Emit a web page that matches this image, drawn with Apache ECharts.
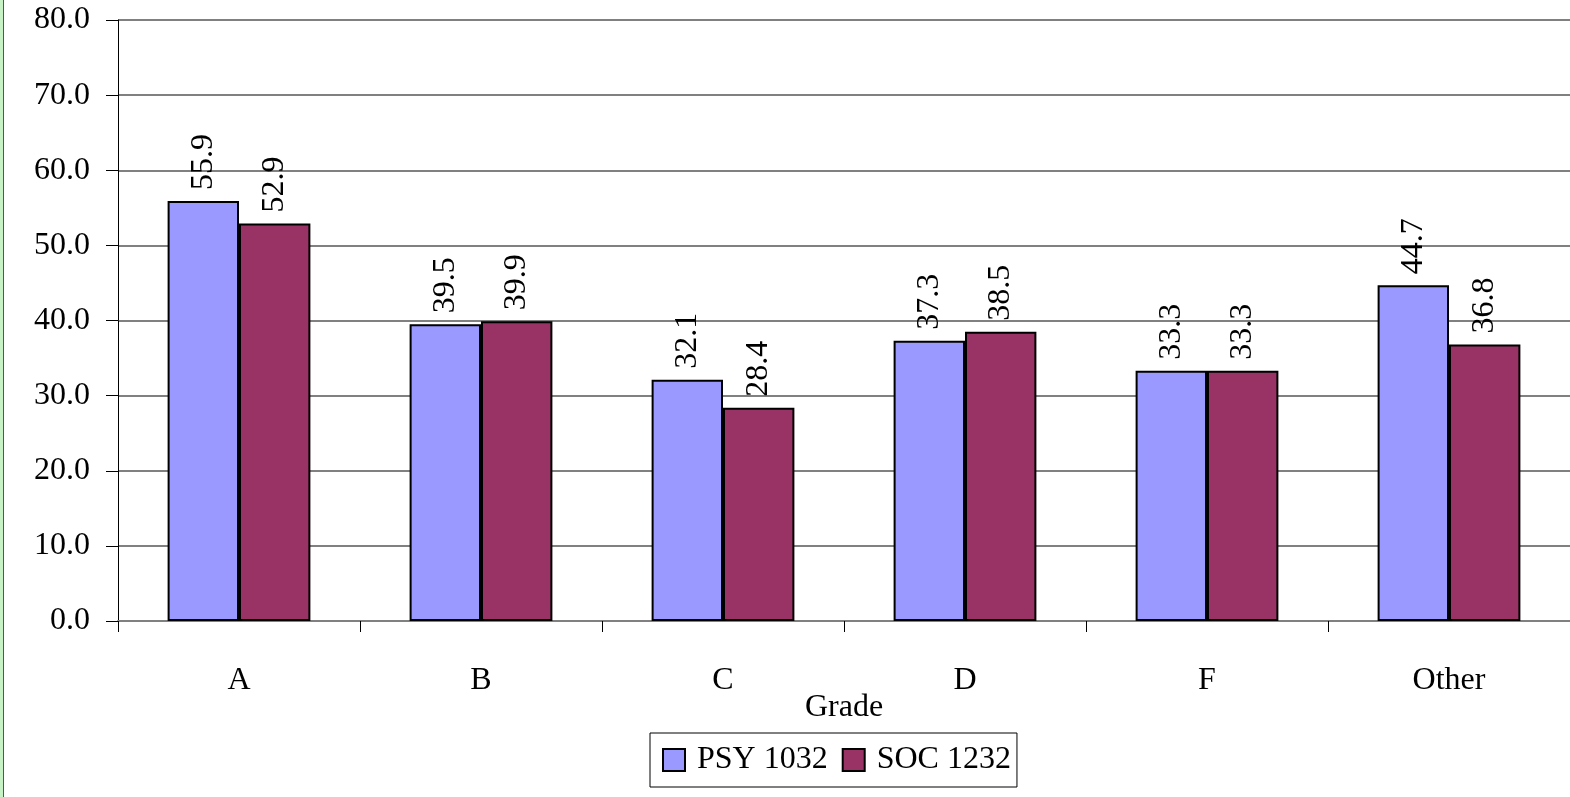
<!DOCTYPE html>
<html><head><meta charset="utf-8">
<script src="https://cdn.jsdelivr.net/npm/echarts@6/dist/echarts.min.js"></script>
<style>html,body{margin:0;padding:0;background:#fff}#c{width:1570px;height:797px}</style>
</head><body><div id="c"></div>
<script>
const categories = ['A', 'B', 'C', 'D', 'F', 'Other'];
const psy1032 = [55.9, 39.5, 32.1, 37.3, 33.3, 44.7];
const soc1232 = [52.9, 39.9, 28.4, 38.5, 33.3, 36.8];
const seriesNames = ['PSY 1032', 'SOC 1232'];
const FONT = 'Liberation Serif';
const chart = echarts.init(document.getElementById('c'), null, {renderer: 'canvas'});
function labelOpt() {
  return {
    show: true, position: 'top', rotate: 90, align: 'left', verticalAlign: 'middle',
    distance: 11, fontFamily: FONT, fontSize: 32, fontWeight: 'normal', color: '#000',
    formatter: p => '{v|' + p.value.toFixed(1) + '}',
    rich: {v: {fontFamily: FONT, fontSize: 32, color: '#000'}}
  };
}
chart.setOption({
  animation: false,
  textStyle: {fontFamily: FONT},
  graphic: [
    {type: 'rect', left: 0, top: 0, shape: {width: 3, height: 797}, style: {fill: '#c6f2c6'}},
    {type: 'rect', left: 3, top: 0, shape: {width: 1, height: 797}, style: {fill: '#2f6f2f'}}
  ],
  grid: {left: 118, right: -1, top: 20, bottom: 176, containLabel: false},
  legend: {
    top: 733, left: 650, data: seriesNames, icon: 'rect',
    itemWidth: 22, itemHeight: 22, itemGap: 14,
    padding: [11, 6, 11, 12],
    borderColor: '#000', borderWidth: 1,
    textStyle: {fontFamily: FONT, fontSize: 32, color: '#000', padding: [0, 0, 0, 7]},
    itemStyle: {borderColor: '#000', borderWidth: 2}
  },
  xAxis: {
    type: 'category', data: categories,
    name: 'Grade', nameLocation: 'middle', nameGap: 71, nameMoveOverlap: false,
    nameTextStyle: {fontFamily: FONT, fontSize: 32, color: '#000'},
    axisLine: {lineStyle: {color: '#808080', width: 2}},
    axisTick: {show: true, length: 11, lineStyle: {color: '#000', width: 1}},
    axisLabel: {fontFamily: FONT, fontSize: 32, color: '#000', margin: 44}
  },
  yAxis: {
    type: 'value', min: 0, max: 80, interval: 10,
    axisLine: {show: true, lineStyle: {color: '#000', width: 1}},
    axisTick: {show: true, length: 12, lineStyle: {color: '#000'}},
    axisLabel: {fontFamily: FONT, fontSize: 32, color: '#000', margin: 28, formatter: v => v.toFixed(1)},
    splitLine: {show: true, lineStyle: {color: '#808080', width: 2}}
  },
  series: [
    {name: seriesNames[0], type: 'bar', data: psy1032, barGap: '0%', barCategoryGap: '41%',
     itemStyle: {color: '#9999ff', borderColor: '#000', borderWidth: 2}, label: labelOpt()},
    {name: seriesNames[1], type: 'bar', data: soc1232,
     itemStyle: {color: '#993366', borderColor: '#000', borderWidth: 2}, label: labelOpt()}
  ]
});
</script></body></html>
